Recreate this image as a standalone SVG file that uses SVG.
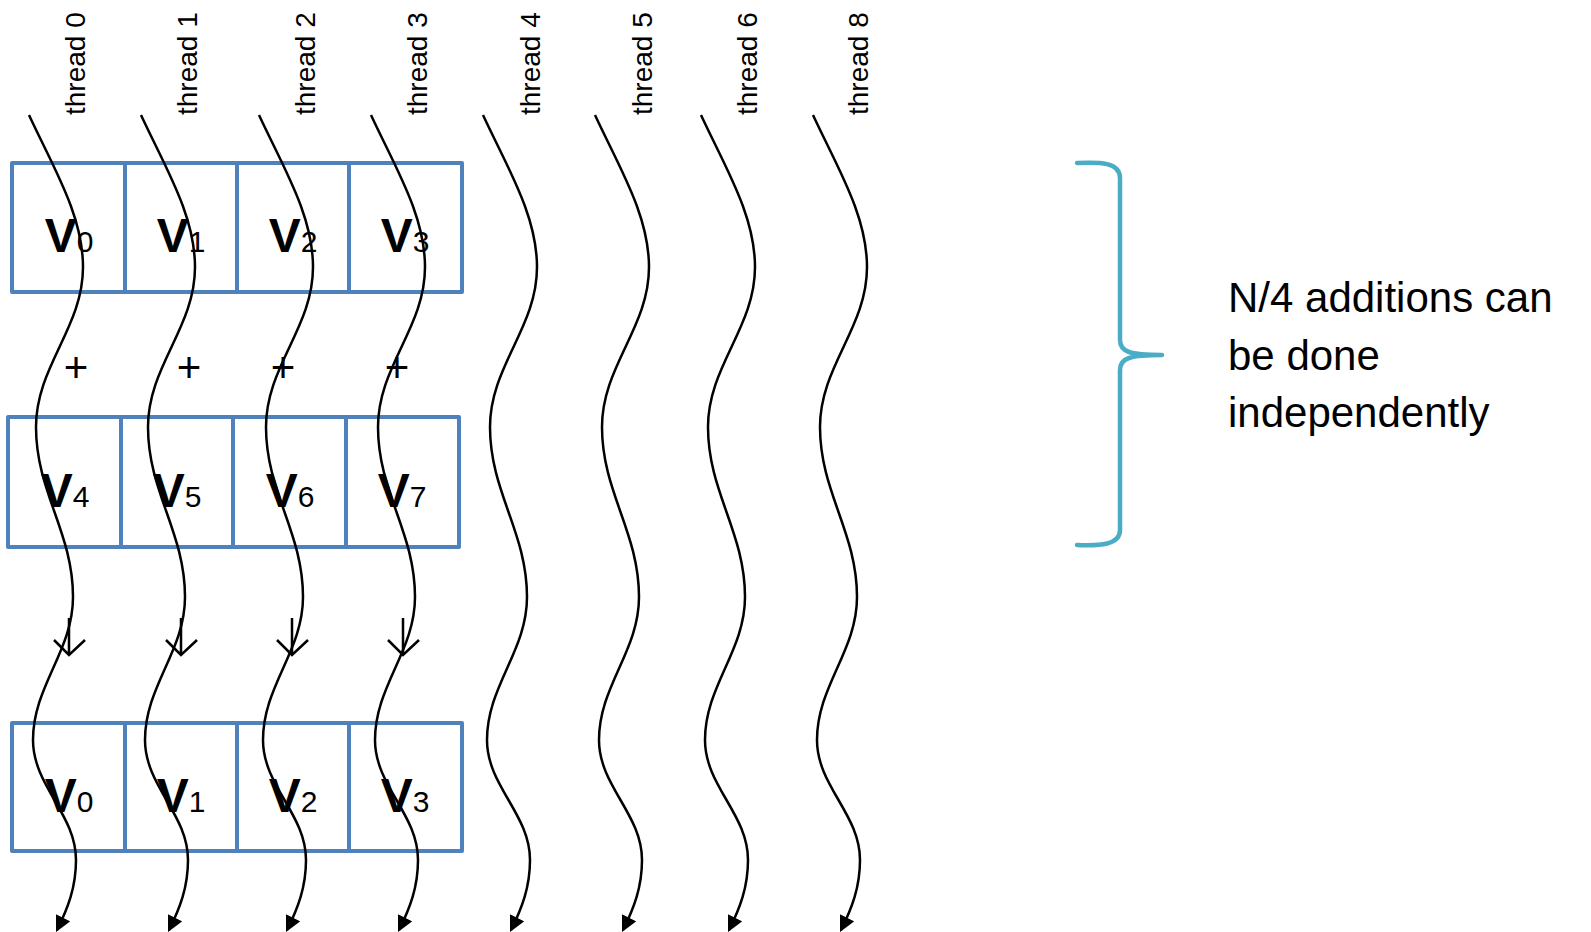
<svg xmlns="http://www.w3.org/2000/svg" width="1591" height="932" viewBox="0 0 1591 932">
<style>
.box{fill:none;stroke:#4F81BD;stroke-width:4;stroke-linejoin:round}
.div{stroke:#4F81BD;stroke-width:4}
.lbl{font-family:"Liberation Sans",Arial,sans-serif;font-size:28px;fill:#000}
.v{font-family:"Liberation Sans",Arial,sans-serif;fill:#000}
.vb{font-weight:bold;font-size:48px}
.vs{font-size:30px}
.plus{font-family:"Liberation Sans",Arial,sans-serif;font-size:42px;fill:#000}
.wave{fill:none;stroke:#000;stroke-width:2.5}
.dn{fill:none;stroke:#000;stroke-width:2.5}
.brace{fill:none;stroke:#4BACC6;stroke-width:4.5;stroke-linecap:round;stroke-linejoin:round}
.note{font-family:"Liberation Sans",Arial,sans-serif;font-size:42px;fill:#000}
</style>
<defs>
<marker id="ah" markerUnits="userSpaceOnUse" markerWidth="16" markerHeight="16" viewBox="0 0 14 14" refX="12" refY="7" orient="auto">
<path d="M0,0 L14,7 L0,14 z" fill="#000"/>
</marker>
</defs>

<g id="labels">
<text class="lbl" transform="translate(85,115) rotate(-90)">thread 0</text>
<text class="lbl" transform="translate(197,115) rotate(-90)">thread 1</text>
<text class="lbl" transform="translate(315,115) rotate(-90)">thread 2</text>
<text class="lbl" transform="translate(427,115) rotate(-90)">thread 3</text>
<text class="lbl" transform="translate(540,115) rotate(-90)">thread 4</text>
<text class="lbl" transform="translate(652,115) rotate(-90)">thread 5</text>
<text class="lbl" transform="translate(757,115) rotate(-90)">thread 6</text>
<text class="lbl" transform="translate(868,115) rotate(-90)">thread 8</text>
</g>

<g id="row-top">
<rect class="box" x="12" y="163" width="450" height="129"/>
<line class="div" x1="125" y1="163" x2="125" y2="292"/>
<line class="div" x1="237" y1="163" x2="237" y2="292"/>
<line class="div" x1="349" y1="163" x2="349" y2="292"/>
<text class="v" x="69" y="252" text-anchor="middle"><tspan class="vb">V</tspan><tspan class="vs">0</tspan></text>
<text class="v" x="181" y="252" text-anchor="middle"><tspan class="vb">V</tspan><tspan class="vs">1</tspan></text>
<text class="v" x="293" y="252" text-anchor="middle"><tspan class="vb">V</tspan><tspan class="vs">2</tspan></text>
<text class="v" x="405" y="252" text-anchor="middle"><tspan class="vb">V</tspan><tspan class="vs">3</tspan></text>
</g>

<g id="plus-signs">
<text class="plus" x="76" y="382" text-anchor="middle">+</text>
<text class="plus" x="189" y="382" text-anchor="middle">+</text>
<text class="plus" x="283" y="382" text-anchor="middle">+</text>
<text class="plus" x="397" y="382" text-anchor="middle">+</text>
</g>

<g id="row-middle">
<rect class="box" x="8" y="417" width="451" height="130"/>
<line class="div" x1="121" y1="417" x2="121" y2="547"/>
<line class="div" x1="233" y1="417" x2="233" y2="547"/>
<line class="div" x1="346" y1="417" x2="346" y2="547"/>
<text class="v" x="65" y="507" text-anchor="middle"><tspan class="vb">V</tspan><tspan class="vs">4</tspan></text>
<text class="v" x="177" y="507" text-anchor="middle"><tspan class="vb">V</tspan><tspan class="vs">5</tspan></text>
<text class="v" x="290" y="507" text-anchor="middle"><tspan class="vb">V</tspan><tspan class="vs">6</tspan></text>
<text class="v" x="402" y="507" text-anchor="middle"><tspan class="vb">V</tspan><tspan class="vs">7</tspan></text>
</g>

<g id="row-bottom">
<rect class="box" x="12" y="723" width="450" height="128"/>
<line class="div" x1="125" y1="723" x2="125" y2="851"/>
<line class="div" x1="237" y1="723" x2="237" y2="851"/>
<line class="div" x1="349" y1="723" x2="349" y2="851"/>
<text class="v" x="69" y="812" text-anchor="middle"><tspan class="vb">V</tspan><tspan class="vs">0</tspan></text>
<text class="v" x="181" y="812" text-anchor="middle"><tspan class="vb">V</tspan><tspan class="vs">1</tspan></text>
<text class="v" x="293" y="812" text-anchor="middle"><tspan class="vb">V</tspan><tspan class="vs">2</tspan></text>
<text class="v" x="405" y="812" text-anchor="middle"><tspan class="vb">V</tspan><tspan class="vs">3</tspan></text>
</g>

<g id="down-arrows">
<path class="dn" d="M69,618 V655 M54,640 L69,655 L85,640"/>
<path class="dn" d="M181,618 V655 M166,640 L181,655 L197,640"/>
<path class="dn" d="M292,618 V655 M277,640 L292,655 L308,640"/>
<path class="dn" d="M403,618 V655 M388,640 L403,655 L419,640"/>
</g>

<g id="brace-note">
<path class="brace" d="M1077,163 C1100,162 1120,162 1120,178 L1120,340 C1120,352 1130,355 1162,355 C1130,355 1120,358 1120,370 L1120,530 C1120,545 1100,546 1077,545"/>
<text class="note" x="1228" y="312">N/4 additions can</text>
<text class="note" x="1228" y="370">be done</text>
<text class="note" x="1228" y="427">independently</text>
</g>

<g id="connectors">
<path class="wave" marker-end="url(#ah)" transform="translate(29,115)" d="M0,0 C24,52 54,100 54,152 C54,213 7,251 7,312 C7,377 44,417 44,482 C44,536 4,571 4,625 C4,671 47,699 47,745 C47,772 39,793 28,815"/>
<path class="wave" marker-end="url(#ah)" transform="translate(141,115)" d="M0,0 C24,52 54,100 54,152 C54,213 7,251 7,312 C7,377 44,417 44,482 C44,536 4,571 4,625 C4,671 47,699 47,745 C47,772 39,793 28,815"/>
<path class="wave" marker-end="url(#ah)" transform="translate(259,115)" d="M0,0 C24,52 54,100 54,152 C54,213 7,251 7,312 C7,377 44,417 44,482 C44,536 4,571 4,625 C4,671 47,699 47,745 C47,772 39,793 28,815"/>
<path class="wave" marker-end="url(#ah)" transform="translate(371,115)" d="M0,0 C24,52 54,100 54,152 C54,213 7,251 7,312 C7,377 44,417 44,482 C44,536 4,571 4,625 C4,671 47,699 47,745 C47,772 39,793 28,815"/>
<path class="wave" marker-end="url(#ah)" transform="translate(483,115)" d="M0,0 C24,52 54,100 54,152 C54,213 7,251 7,312 C7,377 44,417 44,482 C44,536 4,571 4,625 C4,671 47,699 47,745 C47,772 39,793 28,815"/>
<path class="wave" marker-end="url(#ah)" transform="translate(595,115)" d="M0,0 C24,52 54,100 54,152 C54,213 7,251 7,312 C7,377 44,417 44,482 C44,536 4,571 4,625 C4,671 47,699 47,745 C47,772 39,793 28,815"/>
<path class="wave" marker-end="url(#ah)" transform="translate(701,115)" d="M0,0 C24,52 54,100 54,152 C54,213 7,251 7,312 C7,377 44,417 44,482 C44,536 4,571 4,625 C4,671 47,699 47,745 C47,772 39,793 28,815"/>
<path class="wave" marker-end="url(#ah)" transform="translate(813,115)" d="M0,0 C24,52 54,100 54,152 C54,213 7,251 7,312 C7,377 44,417 44,482 C44,536 4,571 4,625 C4,671 47,699 47,745 C47,772 39,793 28,815"/>
</g>
</svg>
